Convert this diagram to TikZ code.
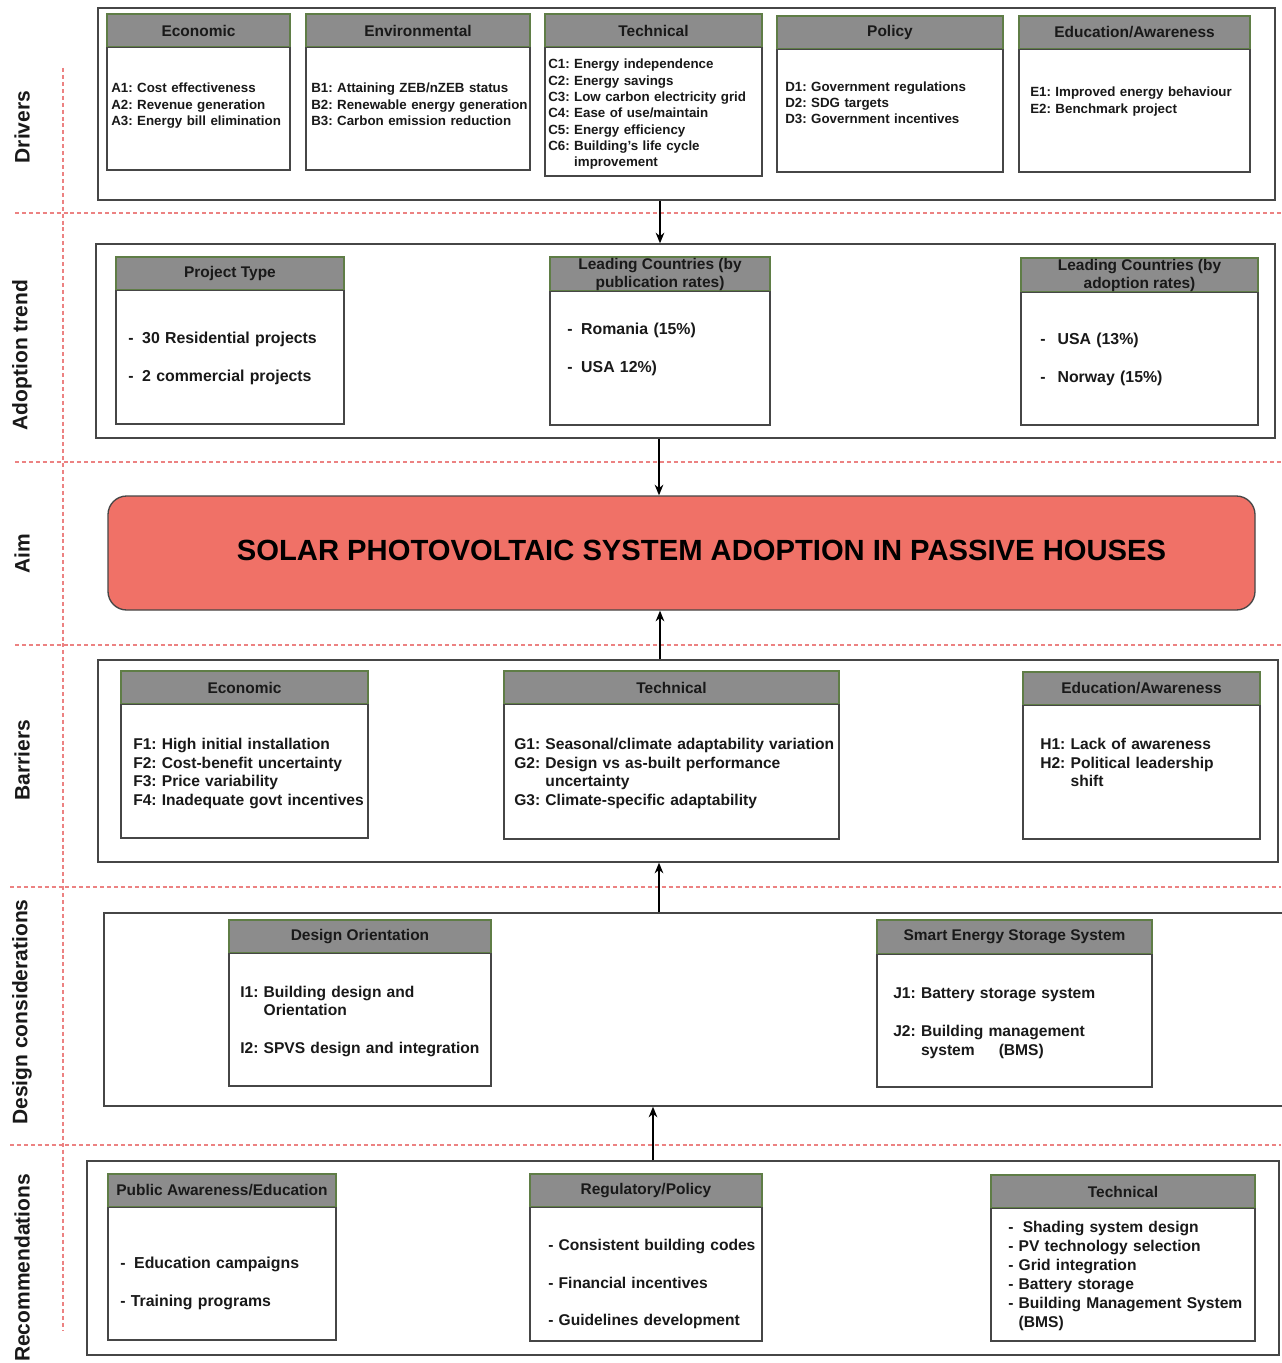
\documentclass[tikz,border=0pt]{standalone}
\usepackage{fontspec}
\setmainfont{Liberation Sans}
\usetikzlibrary{fit,arrows.meta}
\frenchspacing
\definecolor{hdrfill}{RGB}{140,140,140}
\definecolor{hdrline}{RGB}{95,125,70}
\definecolor{boxline}{RGB}{70,70,70}
\definecolor{aimfill}{RGB}{240,113,103}
\definecolor{guide}{RGB}{236,130,130}
\definecolor{txt}{RGB}{25,25,25}
\tikzset{
 outerbox/.style={draw=boxline, line width=1pt, fill=white, inner sep=0pt},
 bodybox/.style={draw=boxline, line width=1pt, fill=white, inner sep=0pt},
 headbox/.style={draw=hdrline, line width=0.8pt, fill=hdrfill, inner sep=0pt},
 headtxt/.style={inner sep=0pt, text=txt, align=center,
   font=\bfseries\fontsize{11.6}{13.5}\selectfont},
 sepline/.style={draw=boxline, line width=1pt},
 bodytxt/.style={inner sep=0pt, anchor=base west, text width=12cm, align=left, text=txt,
   font=\bfseries\fontsize{11.7}{14}\selectfont},
 drvtxt/.style={bodytxt, font=\bfseries\fontsize{10}{12.2}\selectfont},
 widetxt/.style={bodytxt, font=\bfseries\fontsize{11.9}{28.4}\selectfont},
 sidelbl/.style={rotate=90, inner sep=0pt, text=txt, font=\bfseries\fontsize{15.75}{18}\selectfont},
 guideline/.style={draw=guide, line width=0.8pt, dash pattern=on 3pt off 2.2pt},
 arr/.style={draw=black, line width=1.2pt, -{Stealth[length=8pt,width=6.5pt]}},
 aimbox/.style={draw=boxline, line width=1pt, fill=aimfill, rounded corners=14pt, inner sep=0pt},
 aimtxt/.style={inner sep=0pt, text=black, font=\bfseries\fontsize{21.9}{24}\selectfont},
}
% #1 name, #2 x left, #3 y top, #4 y header bottom, #5 x right, #6 y bottom, #7 title
\newcommand\catbox[7]{%
  \node[bodybox, fit={(#2,#3) (#5,#6)}] (#1) {};
  \node[headbox, fit={(#2,#3) (#5,#4)}] (#1h) {};
  \draw[sepline] (#1h.south west) -- (#1h.south east);
  \node[headtxt] (#1t) at (#1h.center) {#7};
}
\begin{document}
\begin{tikzpicture}[x=0.75pt, y=-0.75pt]
\useasboundingbox (0,0) rectangle (1281,1363);
\fill[white] (0,0) rectangle (1281,1363);

% guide lines
\draw[guideline] (63,68) -- (63,1330);
\draw[guideline] (15,213) -- (1281,213);
\draw[guideline] (15,462) -- (1281,462);
\draw[guideline] (15,645) -- (1281,645);
\draw[guideline] (10,887) -- (1281,887);
\draw[guideline] (10,1145) -- (1281,1145);

% side labels
\node[sidelbl] (lDrv) at (22,127) {Drivers};
\node[sidelbl] (lAdt) at (22,355) {Adoption trend};
\node[sidelbl] (lAim) at (22,554) {Aim};
\node[sidelbl] (lBar) at (22,760) {Barriers};
\node[sidelbl] (lDes) at (22,1012) {Design considerations};
\node[sidelbl] (lRec) at (22,1268) {Recommendations};

% ---------- Drivers ----------
\node[outerbox, fit={(98,8) (1275,200)}] (drv) {};
\catbox{eco}{107}{14}{47}{290}{170}{Economic}
\catbox{env}{306}{14}{47}{530}{170}{Environmental}
\catbox{tec}{545}{14}{47}{762}{176}{Technical}
\catbox{pol}{777}{16}{49}{1003}{172}{Policy}
\catbox{edu}{1019}{16}{49}{1250}{172}{Education/Awareness}
\node[drvtxt] (ecot) at (111,93) {A1: Cost effectiveness\\A2: Revenue generation\\A3: Energy bill elimination};
\node[drvtxt] (envt) at (311,93) {B1: Attaining ZEB/nZEB status\\B2: Renewable energy generation\\B3: Carbon emission reduction};
\node[drvtxt] (tect) at (548,69) {C1: Energy independence\\C2: Energy savings\\C3: Low carbon electricity grid\\C4: Ease of use/maintain\\C5: Energy efficiency\\C6: Building's life cycle\\\phantom{C6: }improvement};
\node[drvtxt] (polt) at (785,91) {D1: Government regulations\\D2: SDG targets\\D3: Government incentives};
\node[drvtxt] (edut) at (1030,97) {E1: Improved energy behaviour\\E2: Benchmark project};

% ---------- Adoption trend ----------
\node[outerbox, fit={(96,244) (1275,438)}] (adt) {};
\catbox{pty}{116}{257}{290}{344}{424}{Project Type}
\catbox{lcp}{550}{257}{291}{770}{425}{Leading Countries (by\\publication rates)}
\catbox{lca}{1021}{258}{292}{1258}{425}{Leading Countries (by\\adoption rates)}
\node[widetxt] (ptyt) at (128,343.6) {-\hspace{6.5pt}30 Residential projects\\-\hspace{6.5pt}2 commercial projects};
\node[widetxt] (lcpt) at (567,334.6) {-\hspace{6.5pt}Romania (15\%)\\-\hspace{6.5pt}USA 12\%)};
\node[widetxt] (lcat) at (1040,344.6) {-\hspace{9pt}USA (13\%)\\-\hspace{9pt}Norway (15\%)};

% ---------- Aim ----------
\node[aimbox, fit={(108,496) (1255,610)}] (aim) {};
\node[aimtxt] (aimt) at (701.5,550) {SOLAR PHOTOVOLTAIC SYSTEM ADOPTION IN PASSIVE HOUSES};

% ---------- Barriers ----------
\node[outerbox, fit={(98,660) (1278,862)}] (bar) {};
\catbox{bec}{121}{671}{704}{368}{838}{Economic}
\catbox{btc}{504}{671}{704}{839}{839}{Technical}
\catbox{bed}{1023}{672}{705}{1260}{839}{Education/Awareness}
\node[bodytxt] (bect) at (133,749.5) {F1: High initial installation\\F2: Cost-benefit uncertainty\\F3: Price variability\\F4: Inadequate govt incentives};
\node[bodytxt] (btct) at (514,749.5) {G1: Seasonal/climate adaptability variation\\G2: Design vs as-built performance\\\phantom{G2: }uncertainty\\G3: Climate-specific adaptability};
\node[bodytxt] (bedt) at (1040,749.5) {H1: Lack of awareness\\H2: Political leadership\\\phantom{H2: }shift};

% ---------- Design considerations ----------
\node[outerbox, fit={(104,913) (1284,1106)}] (des) {};
\catbox{dor}{229}{920}{953}{491}{1086}{Design Orientation}
\catbox{ses}{877}{920}{954}{1152}{1087}{Smart Energy Storage System}
\node[bodytxt, font=\bfseries\fontsize{11.7}{13.5}\selectfont] (dort) at (240,997.5) {I1: Building design and\\\phantom{I1: }Orientation\\[15pt]I2: SPVS design and integration};
\node[bodytxt] (sest) at (893,998.5) {J1: Battery storage system\\[14.5pt]J2: Building management\\\phantom{J2: }system\hspace{18pt}(BMS)};

% ---------- Recommendations ----------
\node[outerbox, fit={(87,1161) (1279,1355)}] (rec) {};
\catbox{rpa}{108}{1174}{1207}{336}{1340}{Public Awareness/Education}
\catbox{rrp}{530}{1174}{1207}{762}{1341}{Regulatory/Policy}
\catbox{rtc}{991}{1175}{1208}{1255}{1341}{Technical}
\node[widetxt] (rpat) at (120,1268.5) {-\hspace{6.5pt}Education campaigns\\- Training programs};
\node[widetxt, font=\bfseries\fontsize{11.7}{28.2}\selectfont] (rrpt) at (548,1250.5) {- Consistent building codes\\- Financial incentives\\- Guidelines development};
\node[bodytxt, font=\bfseries\fontsize{11.7}{14.25}\selectfont] (rtct) at (1008,1232.5) {-\hspace{7pt}Shading system design\\- PV technology selection\\- Grid integration\\- Battery storage\\- Building Management System\\\phantom{- }(BMS)};

% ---------- Arrows ----------
\coordinate (ax1) at (660,0);
\coordinate (ax2) at (659,0);
\coordinate (ax3) at (660,0);
\coordinate (ax4) at (659,0);
\coordinate (ax5) at (653,0);
\draw[arr] (drv.south -| ax1) -- (adt.north -| ax1);
\draw[arr] (adt.south -| ax2) -- (aim.north -| ax2);
\draw[arr] (bar.north -| ax3) -- (aim.south -| ax3);
\draw[arr] (des.north -| ax4) -- (bar.south -| ax4);
\draw[arr] (rec.north -| ax5) -- (des.south -| ax5);
\end{tikzpicture}
\end{document}
